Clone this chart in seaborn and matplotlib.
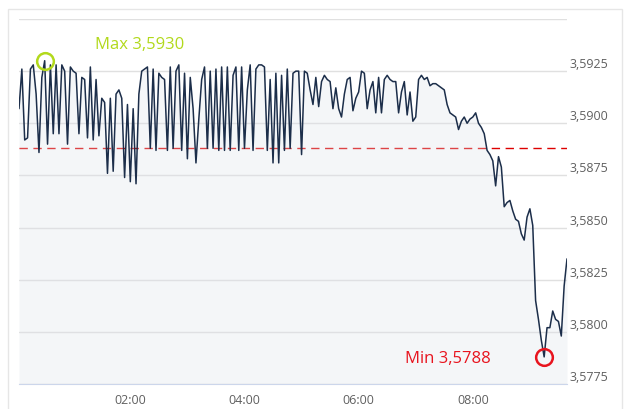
import pandas as pd
import matplotlib
matplotlib.use('Agg')
import matplotlib.pyplot as plt
import matplotlib.dates as mdates
from matplotlib.patches import Rectangle
import seaborn as sns

# intraday quotes, one every 3 minutes from 00:03 to 09:39
day = '2024-01-01'
first_time = '00:03'
step = '3min'
rates = [
    # 00:03 - 00:57
    3.5907, 3.5926, 3.5892, 3.5893, 3.5926, 3.5928, 3.5914, 3.5886, 3.5922, 3.5930,
    3.5890, 3.5928, 3.5895, 3.5928, 3.5895, 3.5928, 3.5925, 3.5890, 3.5927,
    # 01:00 - 01:57
    3.5925, 3.5924, 3.5895, 3.5922, 3.5921, 3.5893, 3.5927, 3.5892, 3.5921, 3.5894,
    3.5912, 3.5910, 3.5876, 3.5912, 3.5877, 3.5914, 3.5916, 3.5912, 3.5874, 3.5909,
    # 02:00 - 02:57
    3.5872, 3.5907, 3.5871, 3.5914, 3.5925, 3.5926, 3.5927, 3.5888, 3.5926, 3.5887,
    3.5924, 3.5922, 3.5921, 3.5887, 3.5927, 3.5888, 3.5925, 3.5928, 3.5887, 3.5924,
    # 03:00 - 03:57
    3.5883, 3.5922, 3.5907, 3.5881, 3.5902, 3.5921, 3.5927, 3.5888, 3.5925, 3.5888,
    3.5926, 3.5887, 3.5927, 3.5887, 3.5927, 3.5887, 3.5923, 3.5927, 3.5887, 3.5927,
    # 04:00 - 04:57
    3.5888, 3.5916, 3.5928, 3.5887, 3.5926, 3.5928, 3.5928, 3.5927, 3.5887, 3.5921,
    3.5881, 3.5924, 3.5881, 3.5923, 3.5887, 3.5926, 3.5888, 3.5924, 3.5925, 3.5925,
    # 05:00 - 05:57
    3.5885, 3.5925, 3.5924, 3.5916, 3.5909, 3.5922, 3.5908, 3.5920, 3.5923, 3.5921,
    3.5920, 3.5907, 3.5917, 3.5907, 3.5903, 3.5914, 3.5921, 3.5922, 3.5906, 3.5912,
    # 06:00 - 06:57
    3.5915, 3.5925, 3.5924, 3.5907, 3.5916, 3.5920, 3.5905, 3.5922, 3.5905, 3.5921,
    3.5923, 3.5921, 3.5920, 3.5920, 3.5905, 3.5915, 3.5920, 3.5904, 3.5915, 3.5901,
    # 07:00 - 07:57
    3.5903, 3.5921, 3.5923, 3.5921, 3.5922, 3.5918, 3.5919, 3.5919, 3.5918, 3.5917,
    3.5916, 3.5909, 3.5905, 3.5904, 3.5903, 3.5897, 3.5901, 3.5903, 3.5900, 3.5902,
    # 08:00 - 08:57
    3.5903, 3.5905, 3.5900, 3.5898, 3.5895, 3.5887, 3.5885, 3.5882, 3.5870, 3.5884,
    3.5879, 3.5860, 3.5862, 3.5863, 3.5858, 3.5854, 3.5853, 3.5847, 3.5844, 3.5855,
    # 09:00 - 09:39
    3.5859, 3.5851, 3.5815, 3.5806, 3.5796, 3.5788, 3.5802, 3.5802, 3.5810, 3.5806,
    3.5805, 3.5798, 3.5822, 3.5835,
]
ref_rate = 3.5888
y_ticks = [3.5775, 3.5800, 3.5825, 3.5850, 3.5875, 3.5900, 3.5925, 3.5950]
x_tick_hours = [2, 4, 6, 8]

line_color = '#1c2e4a'
max_color = '#b2d91c'
min_color = '#e8141e'

data = pd.DataFrame({
    'time': pd.date_range(f'{day} {first_time}', periods=len(rates), freq=step),
    'rate': rates,
})

sns.set_style('white')
plt.rcParams['font.family'] = ['Open Sans', 'DejaVu Sans']

fig = plt.figure(figsize=(6.32, 4.09), dpi=100)
ax = fig.add_axes([19 / 632, 25 / 409, 548 / 632, 365 / 409])
fig.patches.append(Rectangle((8 / 632, -0.1), 614 / 632, 0.1 + 400 / 409,
                             transform=fig.transFigure, fill=False,
                             edgecolor='#e6e6e6', lw=1))

ax.set_ylim(y_ticks[0], y_ticks[-1])
ax.set_xlim(data['time'].iloc[0], data['time'].iloc[-1])

for y in y_ticks:
    ax.axhline(y, color='#e0e0e0', lw=1, zorder=0)
ax.axhline(ref_rate, color='#dd0000', lw=1, ls=(0, (6, 4)), zorder=1)
ax.fill_between(data['time'], data['rate'], y_ticks[0], color='#dde2ea',
                alpha=0.3, lw=0, zorder=2)
sns.lineplot(data=data, x='time', y='rate', color=line_color, lw=1.1, ax=ax, zorder=3)

# max / min markers
hi = data.loc[data['rate'].idxmax()]
lo = data.loc[data['rate'].idxmin()]
ax.plot(hi['time'], hi['rate'], 'o', ms=12, mfc='none', mec=max_color, mew=1.8, zorder=4)
ax.plot(lo['time'], lo['rate'], 'o', ms=12, mfc='none', mec=min_color, mew=1.8, zorder=4)
ax.annotate('Max ' + f"{hi['rate']:.4f}".replace('.', ','), xy=(hi['time'], hi['rate']),
            xytext=(36.5, 11), textcoords='offset points', ha='left', va='center',
            color=max_color, fontsize=12)
ax.annotate('Min ' + f"{lo['rate']:.4f}".replace('.', ','), xy=(lo['time'], lo['rate']),
            xytext=(-38.5, -1.2), textcoords='offset points', ha='right', va='center',
            color=min_color, fontsize=12)

# axes styling
for side in ['top', 'left', 'right']:
    ax.spines[side].set_visible(False)
ax.spines['bottom'].set_color('#ccd6eb')
ax.set_xlabel('')
ax.set_ylabel('')

ax.yaxis.tick_right()
ax.set_yticks(y_ticks[:-1])
ax.set_yticklabels([f'{v:.4f}'.replace('.', ',') for v in y_ticks[:-1]])
ax.tick_params(axis='y', length=0, pad=2, labelsize=9, labelcolor='#606060')
for lbl in ax.get_yticklabels():
    lbl.set_va('bottom')

ax.xaxis.set_major_locator(mdates.HourLocator(byhour=x_tick_hours))
ax.xaxis.set_major_formatter(mdates.DateFormatter('%H:%M'))
ax.tick_params(axis='x', length=6.5, width=1, color='#ccd6eb', pad=1,
               labelsize=9, labelcolor='#606060')

fig.savefig('out.png', dpi=100)
